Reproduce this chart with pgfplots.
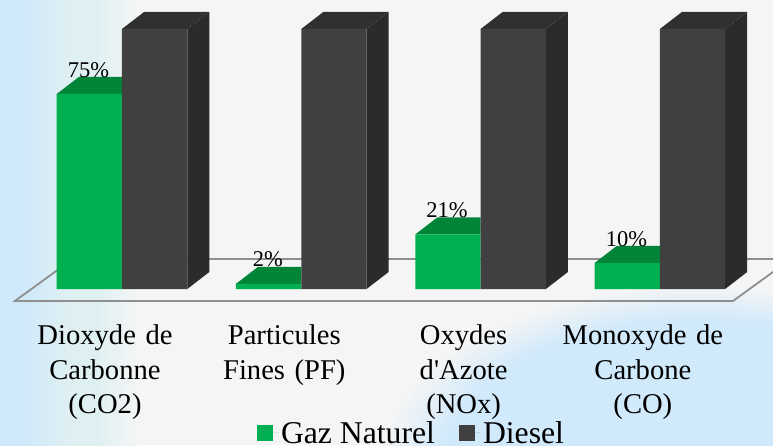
\documentclass[border=0pt]{standalone}
\usepackage{fontspec}
\setmainfont{Liberation Serif}
\usepackage{pgfplots}
\pgfplotsset{compat=1.18}
\definecolor{bg}{HTML}{F5F5F5}
\definecolor{sky}{HTML}{D0E9FB}
\definecolor{tint}{HTML}{DFF0F2}
\definecolor{gf}{HTML}{00B050}
\definecolor{gt}{HTML}{008538}
\definecolor{df}{HTML}{404040}
\definecolor{ds}{HTML}{2B2B2B}
\definecolor{dt}{HTML}{303030}
\definecolor{fl}{HTML}{8F8F8F}
\pgfdeclarehorizontalshading{leftfade}{100bp}{color(0bp)=(sky); color(34bp)=(sky); color(50bp)=(tint); color(60bp)=(tint); color(75bp)=(bg); color(100bp)=(bg)}
\pgfdeclareradialshading{blob}{\pgfpointorigin}{color(0bp)=(sky); color(20bp)=(sky); color(25bp)=(bg); color(50bp)=(bg)}
\begin{document}
\begin{tikzpicture}
\useasboundingbox (0pt,0pt) rectangle (773pt,445pt);
\clip (0pt,0pt) rectangle (773pt,445pt);
\fill[bg] (0pt,0pt) rectangle (773pt,445pt);
\shade[shading=leftfade] (0pt,0pt) rectangle (138pt,445pt);
\shade[shading=blob] (700pt,-20pt) ellipse (320pt and 180pt);
\begin{axis}[at={(0pt,140.4pt)},anchor=south west,scale only axis,width=773pt,height=304.6pt,
  xmin=-0.6804,xmax=3.631,ymin=-6,ymax=111.15,
  axis line style={draw=none},tick style={draw=none},
  /pgf/number format/assume math mode=true,
  xtick={0,1,2,3},ytick=\empty,
  xticklabels={{Dioxyde de\\Carbonne\\(CO2)},{Particules\\Fines (PF)},{Oxydes\\d\textquotesingle Azote\\(NOx)},{Monoxyde de\\Carbone\\(CO)}},
  xticklabel style={font=\fontsize{28.6}{34.5}\selectfont,align=center,text width=180pt,anchor=north,yshift=-17pt,xshift=-17pt},
  legend style={at={(257pt,-142pt)},anchor=south west,draw=none,fill=none,inner sep=0pt,outer sep=0pt,
    font=\fontsize{31.7}{32}\selectfont,legend columns=2,/tikz/every even column/.style={column sep=22pt}},
  legend cell align=left,
  legend image code/.code={\fill[#1] (0pt,-8pt) rectangle (16pt,8pt);\path (0pt,0pt) -- (22pt,0pt);},
]
% floor
\addplot[draw=fl,line width=1.8pt,forget plot] coordinates {(-0.597,-4.6)(3.408,-4.6)(3.731,11.54)(-0.275,11.54)} -- cycle;
% green tops
\addplot[fill=gt,draw=none,forget plot] coordinates {(-0.364,75)(-0.241,81.54)(0,81.54)(0,75)} -- cycle;
\addplot[fill=gt,draw=none,forget plot] coordinates {(0.636,2)(0.759,8.54)(1,8.54)(1,2)} -- cycle;
\addplot[fill=gt,draw=none,forget plot] coordinates {(1.636,21)(1.759,27.54)(2,27.54)(2,21)} -- cycle;
\addplot[fill=gt,draw=none,forget plot] coordinates {(2.636,10)(2.759,16.54)(3,16.54)(3,10)} -- cycle;
% green fronts
\addplot[ybar,bar width=65.3pt,bar shift=-32.65pt,fill=gf,draw=none,
  nodes near coords={\pgfmathprintnumber{\pgfplotspointmeta}\%},
  nodes near coords style={font=\fontsize{22.5}{24}\selectfont,text=black,anchor=south,yshift=13pt,xshift=-33.5pt}]
  coordinates {(0,75)(1,2)(2,21)(3,10)};
\addlegendentry{Gaz Naturel}
% dark sides
\addplot[fill=ds,draw=none,forget plot] coordinates {(0.364,0)(0.487,6.54)(0.487,106.54)(0.364,100)} -- cycle;
\addplot[fill=ds,draw=none,forget plot] coordinates {(1.364,0)(1.487,6.54)(1.487,106.54)(1.364,100)} -- cycle;
\addplot[fill=ds,draw=none,forget plot] coordinates {(2.364,0)(2.487,6.54)(2.487,106.54)(2.364,100)} -- cycle;
\addplot[fill=ds,draw=none,forget plot] coordinates {(3.364,0)(3.487,6.54)(3.487,106.54)(3.364,100)} -- cycle;
% dark tops
\addplot[fill=dt,draw=none,forget plot] coordinates {(0,100)(0.123,106.54)(0.487,106.54)(0.364,100)} -- cycle;
\addplot[fill=dt,draw=none,forget plot] coordinates {(1,100)(1.123,106.54)(1.487,106.54)(1.364,100)} -- cycle;
\addplot[fill=dt,draw=none,forget plot] coordinates {(2,100)(2.123,106.54)(2.487,106.54)(2.364,100)} -- cycle;
\addplot[fill=dt,draw=none,forget plot] coordinates {(3,100)(3.123,106.54)(3.487,106.54)(3.364,100)} -- cycle;
% dark fronts
\addplot[ybar,bar width=65.3pt,bar shift=32.65pt,fill=df,draw=none]
  coordinates {(0,100)(1,100)(2,100)(3,100)};
\addlegendentry{Diesel}
\end{axis}
\end{tikzpicture}
\end{document}
